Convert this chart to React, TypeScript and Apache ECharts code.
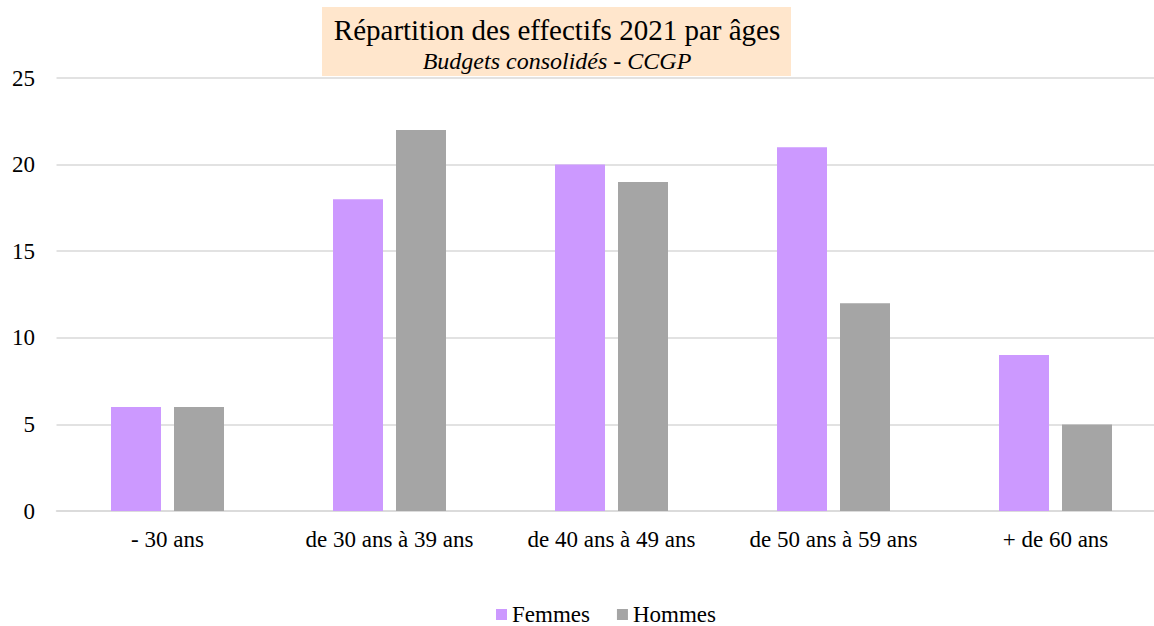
import React, { useEffect, useRef } from "react";
import * as echarts from "echarts";

const categories = ["- 30 ans", "de 30 ans à 39 ans", "de 40 ans à 49 ans", "de 50 ans à 59 ans", "+ de 60 ans"];
const femmes = [6, 18, 20, 21, 9];
const hommes = [6, 22, 19, 12, 5];
const titleText = "Répartition des effectifs 2021 par âges";
const subtitleText = "Budgets consolidés - CCGP";

const FONT = "'Liberation Serif', 'Times New Roman', serif";

export default function App() {
  const ref = useRef<HTMLDivElement>(null);
  useEffect(() => {
    if (!ref.current) return;
    const chart = echarts.init(ref.current, null, { renderer: "svg" });
    chart.setOption({
      animation: false,
      backgroundColor: "#ffffff",
      graphic: [
        {
          type: "rect",
          shape: { x: 322, y: 7, width: 469, height: 69 },
          style: { fill: "#FFE6CC" },
          z: 0,
        },
      ],
      title: {
        text: titleText,
        subtext: subtitleText,
        left: 557,
        top: 15,
        textAlign: "center",
        itemGap: 5,
        padding: 0,
        textStyle: { fontFamily: FONT, fontSize: 29, lineHeight: 29, fontWeight: "normal", color: "#000000" },
        subtextStyle: { fontFamily: FONT, fontSize: 24, lineHeight: 24, fontStyle: "italic", color: "#000000" },
        z: 5,
      },
      legend: {
        left: 496,
        top: 603,
        itemWidth: 11,
        itemHeight: 11,
        itemGap: 27,
        icon: "rect",
        padding: 0,
        textStyle: { fontFamily: FONT, fontSize: 23, lineHeight: 23, color: "#000000" },
        data: ["Femmes", "Hommes"],
      },
      grid: { left: 56.5, top: 78, width: 1110, height: 433, containLabel: false },
      xAxis: {
        type: "category",
        data: categories,
        axisLine: { show: true, lineStyle: { color: "#D9D9D9", width: 1.5 } },
        axisTick: { show: false },
        axisLabel: { fontFamily: FONT, fontSize: 23, lineHeight: 23, color: "#000000", margin: 17 },
      },
      yAxis: {
        type: "value",
        min: 0,
        max: 25,
        interval: 5,
        axisLine: { show: false },
        axisTick: { show: false },
        splitLine: { lineStyle: { color: "#D9D9D9", width: 1.5 } },
        axisLabel: { fontFamily: FONT, fontSize: 23, color: "#000000", margin: 21.5 },
      },
      series: [
        {
          name: "Femmes",
          type: "bar",
          data: femmes,
          barWidth: 50,
          barGap: "26%",
          itemStyle: { color: "#CC99FF" },
        },
        {
          name: "Hommes",
          type: "bar",
          data: hommes,
          barWidth: 50,
          barGap: "26%",
          itemStyle: { color: "#A5A5A5" },
        },
      ],
    });
    return () => chart.dispose();
  }, []);
  return (
    <div style={{ position: "absolute", left: 0, top: 0, width: 1154, height: 626, overflow: "hidden" }}>
      <div ref={ref} style={{ width: 1170, height: 626 }} />
    </div>
  );
}
